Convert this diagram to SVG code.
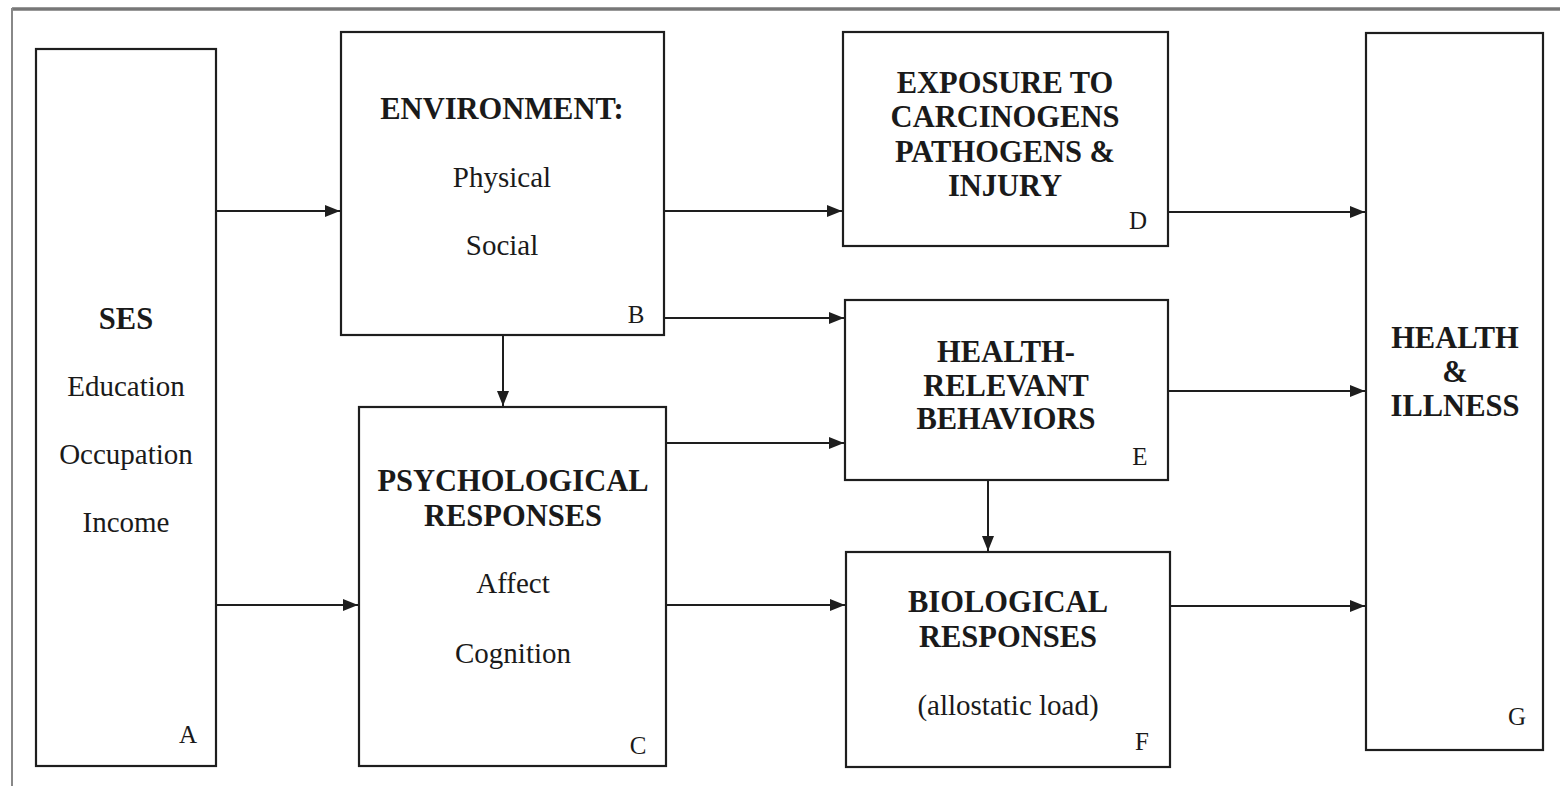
<svg xmlns="http://www.w3.org/2000/svg" width="1560" height="786" viewBox="0 0 1560 786">
<style>
.box{fill:#fff;stroke:#1e1e1e;stroke-width:2.2}
.t{font-family:"Liberation Serif","Times New Roman",serif;font-size:29px;fill:#1a1a1a;text-anchor:middle}
.b{font-weight:bold;font-size:30.5px}
.l{font-family:"Liberation Serif","Times New Roman",serif;font-size:25px;fill:#1a1a1a;text-anchor:middle}
.c{fill:none;stroke:#1e1e1e;stroke-width:2}
</style>
<defs>
<marker id="ah" viewBox="0 0 15 12" refX="15" refY="6" markerWidth="15" markerHeight="12" markerUnits="userSpaceOnUse" orient="auto">
<path d="M0,0 L15,6 L0,12 Z" fill="#1e1e1e"/>
</marker>
</defs>
<rect width="1560" height="786" fill="#fff"/>
<g id="frame">
<line x1="12" y1="9" x2="1560" y2="9" stroke="#777" stroke-width="3.5"/>
<line x1="12" y1="8" x2="12" y2="786" stroke="#888" stroke-width="2"/>
</g>
<g id="connectors">
<line class="c" x1="216" y1="211" x2="340" y2="211" marker-end="url(#ah)"/>
<line class="c" x1="216" y1="605" x2="358" y2="605" marker-end="url(#ah)"/>
<line class="c" x1="664" y1="211" x2="842" y2="211" marker-end="url(#ah)"/>
<line class="c" x1="664" y1="318" x2="844" y2="318" marker-end="url(#ah)"/>
<line class="c" x1="503" y1="335" x2="503" y2="406" marker-end="url(#ah)"/>
<line class="c" x1="666" y1="443" x2="844" y2="443" marker-end="url(#ah)"/>
<line class="c" x1="666" y1="605" x2="845" y2="605" marker-end="url(#ah)"/>
<line class="c" x1="988" y1="480" x2="988" y2="551" marker-end="url(#ah)"/>
<line class="c" x1="1168" y1="212" x2="1365" y2="212" marker-end="url(#ah)"/>
<line class="c" x1="1168" y1="391" x2="1365" y2="391" marker-end="url(#ah)"/>
<line class="c" x1="1170" y1="606" x2="1365" y2="606" marker-end="url(#ah)"/>
</g>
<g id="A">
<rect class="box" x="36" y="49" width="180" height="717"/>
<text class="t b" x="126" y="329">SES</text>
<text class="t" x="126" y="396">Education</text>
<text class="t" x="126" y="464">Occupation</text>
<text class="t" x="126" y="532">Income</text>
<text class="l" x="188" y="743">A</text>
</g>
<g id="B">
<rect class="box" x="341" y="32" width="323" height="303"/>
<text class="t b" x="502" y="119">ENVIRONMENT:</text>
<text class="t" x="502" y="187">Physical</text>
<text class="t" x="502" y="255">Social</text>
<text class="l" x="636" y="323">B</text>
</g>
<g id="C">
<rect class="box" x="359" y="407" width="307" height="359"/>
<text class="t b" x="513" y="491">PSYCHOLOGICAL</text>
<text class="t b" x="513" y="526">RESPONSES</text>
<text class="t" x="513" y="593">Affect</text>
<text class="t" x="513" y="663">Cognition</text>
<text class="l" x="638" y="754">C</text>
</g>
<g id="D">
<rect class="box" x="843" y="32" width="325" height="214"/>
<text class="t b" x="1005" y="93">EXPOSURE TO</text>
<text class="t b" x="1005" y="127">CARCINOGENS</text>
<text class="t b" x="1005" y="162">PATHOGENS &amp;</text>
<text class="t b" x="1005" y="196">INJURY</text>
<text class="l" x="1138" y="229">D</text>
</g>
<g id="E">
<rect class="box" x="845" y="300" width="323" height="180"/>
<text class="t b" x="1006" y="362">HEALTH-</text>
<text class="t b" x="1006" y="396">RELEVANT</text>
<text class="t b" x="1006" y="429">BEHAVIORS</text>
<text class="l" x="1140" y="465">E</text>
</g>
<g id="F">
<rect class="box" x="846" y="552" width="324" height="215"/>
<text class="t b" x="1008" y="612">BIOLOGICAL</text>
<text class="t b" x="1008" y="647">RESPONSES</text>
<text class="t" x="1008" y="715">(allostatic load)</text>
<text class="l" x="1142" y="750">F</text>
</g>
<g id="G">
<rect class="box" x="1366" y="33" width="177" height="717"/>
<text class="t b" x="1455" y="348">HEALTH</text>
<text class="t b" x="1455" y="382">&amp;</text>
<text class="t b" x="1455" y="416">ILLNESS</text>
<text class="l" x="1517" y="725">G</text>
</g>
</svg>
